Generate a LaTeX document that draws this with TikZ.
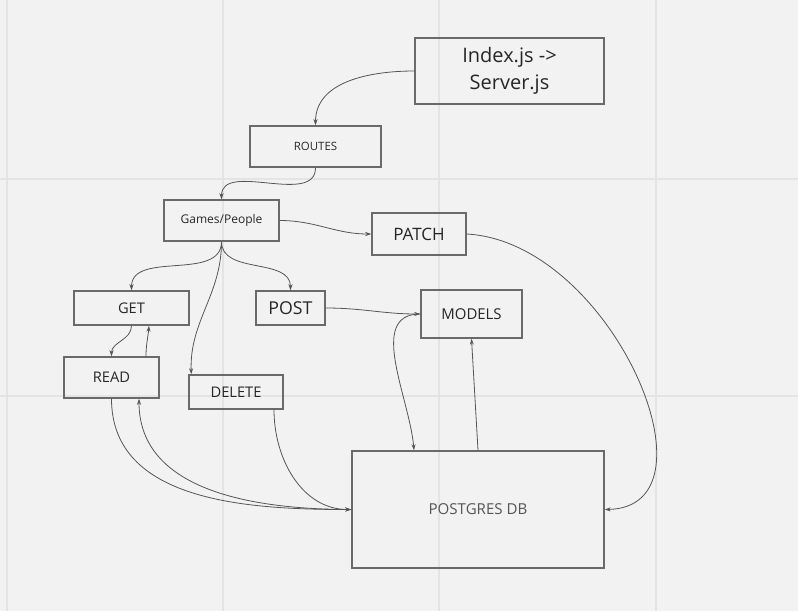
\documentclass[tikz,border=0pt]{standalone}
\usepackage{fontspec}
\setmainfont{Open Sans}
\usetikzlibrary{arrows.meta,calc}
\definecolor{bg}{HTML}{F2F2F2}
\definecolor{gridc}{HTML}{E4E4E4}
\definecolor{boxc}{HTML}{6A6A6A}
\definecolor{linec}{HTML}{555555}
\definecolor{txt}{HTML}{262626}
\definecolor{txtl}{HTML}{555555}
\begin{document}
\begin{tikzpicture}[x=0.75pt,y=-0.75pt,
  box/.style={draw=boxc, line width=1.1pt, inner sep=0pt, text=txt, align=center},
  conn/.style={draw=linec, line width=0.6pt, -{Stealth[length=4.5pt,width=3pt]}},
  gridline/.style={draw=gridc, line width=1pt}]
\fill[bg] (0,0) rectangle (798,611);
\useasboundingbox (0,0) rectangle (798,611);
\foreach \gx in {7,223,439,656} \draw[gridline] (\gx,0) -- (\gx,611);
\foreach \gy in {179,396} \draw[gridline] (0,\gy) -- (798,\gy);

\node[box, minimum width=141.75pt, minimum height=49.5pt, font=\fontsize{15}{20.5}\selectfont] (idx) at (509.5,71) {Index.js ->\\Server.js};
\node[box, minimum width=98.25pt, minimum height=30.75pt, font=\fontsize{8.6}{10}\selectfont] (routes) at (315.5,146.5) {ROUTES};
\node[box, minimum width=86.25pt, minimum height=30.75pt, font=\fontsize{9}{11}\selectfont] (games) at (221.5,220.5) {Games/People};
\node[box, minimum width=70.5pt, minimum height=31.5pt, font=\fontsize{12.8}{15}\selectfont] (patch) at (419,234) {PATCH};
\node[box, minimum width=86.25pt, minimum height=25.5pt, font=\fontsize{11}{13}\selectfont] (get) at (131.5,308) {GET};
\node[box, minimum width=51.75pt, minimum height=25.5pt, font=\fontsize{13.3}{16}\selectfont] (post) at (290.5,308) {POST};
\node[box, minimum width=71.25pt, minimum height=30.75pt, font=\fontsize{11}{13}\selectfont] (read) at (111.5,377.5) {READ};
\node[box, minimum width=70.5pt, minimum height=25.5pt, font=\fontsize{11}{13}\selectfont] (delete) at (236,392) {DELETE};
\node[box, minimum width=75.75pt, minimum height=36pt, font=\fontsize{11.2}{13}\selectfont] (models) at (471.5,314) {MODELS};
\node[box, minimum width=189pt, minimum height=87.75pt, text=txtl, font=\fontsize{11.3}{13}\selectfont] (pg) at (478,509.5) {POSTGRES DB};

\draw[conn] (idx.west) to[out=180,in=90] (routes.north);
\draw[conn] (routes.south) to[out=-90,in=90] (games.north);
\draw[conn] (games.east) to[out=0,in=180] (patch.west);
\draw[conn] (games.south) to[out=-90,in=90] (get.north);
\draw[conn] (games.south) to[out=-90,in=90] (post.north);
\draw[conn] (games.south) to[out=-90,in=92] ($(delete.north west)+(3,0)$);
\draw[conn] (get.south) to[out=-90,in=90] (read.north);
\draw[conn] ($(read.north)+(34.5,0)$) to[out=90,in=-95] ($(get.south)+(17.5,0)$);
\draw[conn] (post.east) to[out=0,in=180] (models.west);
\draw[conn] (models.west) to[out=180,in=95] ($(pg.north)+(-64,0)$);
\draw[conn] (pg.north) -- (models.south);
\draw[conn] (patch.east) .. controls (612,242) and (725,507) .. (pg.east);
\draw[conn] (read.south) to[out=-90,in=180] (pg.west);
\draw[conn] (pg.west) to[out=180,in=-90] ($(read.south)+(27.5,0)$);
\draw[conn] ($(delete.south)+(38,0)$) to[out=-90,in=180] (pg.west);
\end{tikzpicture}
\end{document}
